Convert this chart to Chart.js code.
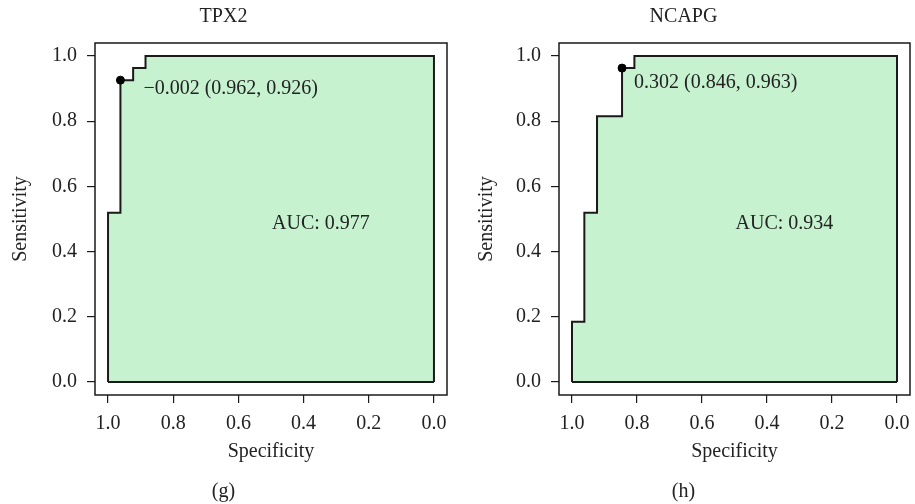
<!DOCTYPE html>
<html>
<head>
<meta charset="utf-8">
<script src="https://cdn.jsdelivr.net/npm/chart.js@4.4.1/dist/chart.umd.min.js"></script>
<style>
  body { margin: 0; background: #fff; }
  #wrap { position: relative; width: 915px; height: 504px; }
  .panel { position: absolute; top: 0; height: 504px; }
</style>
</head>
<body>
<div id="wrap">
  <div class="panel" style="left:0;width:457px"><canvas id="rocTPX2" width="457" height="504"></canvas></div>
  <div class="panel" style="left:457px;width:458px"><canvas id="rocNCAPG" width="458" height="504"></canvas></div>
</div>
<script>
// ROC steps (specificity, sensitivity)
const tpx2Spec = [1, 1, 0.962, 0.962, 0.923, 0.923, 0.885, 0.885, 0];
const tpx2Sens = [0, 0.519, 0.519, 0.926, 0.926, 0.963, 0.963, 1, 1];
const tpx2Best = [-0.002, 0.962, 0.926];   // threshold, spec, sens
const tpx2Auc = 0.977;

const ncapgSpec = [1, 1, 0.962, 0.962, 0.923, 0.923, 0.846, 0.846, 0.808, 0.808, 0];
const ncapgSens = [0, 0.185, 0.185, 0.519, 0.519, 0.815, 0.815, 0.963, 0.963, 1, 1];
const ncapgBest = [0.302, 0.846, 0.963];
const ncapgAuc = 0.934;

const axisTicks = [0, 0.2, 0.4, 0.6, 0.8, 1.0];

Chart.defaults.font.family = "'Liberation Serif', serif";
Chart.defaults.font.size = 20;
Chart.defaults.color = '#222';

const ink = '#1a1a1a';

function fmt(v) {
  return (v < 0 ? '\u2212' : '') + Math.abs(v).toFixed(3);
}

// frame + AUC + threshold text
const rocDecor = {
  id: 'rocDecor',
  afterDraw(chart, args, opts) {
    const { ctx, chartArea: a, scales: { x, y } } = chart;
    ctx.save();
    ctx.strokeStyle = ink;
    ctx.lineWidth = 1.5;
    ctx.strokeRect(a.left, a.top, a.right - a.left, a.bottom - a.top);

    ctx.fillStyle = '#222';
    ctx.font = "20px 'Liberation Serif', serif";
    ctx.textAlign = 'left';
    ctx.textBaseline = 'middle';
    ctx.fillText('AUC: ' + opts.auc.toFixed(3), x.getPixelForValue(0.5) + 1, y.getPixelForValue(0.5) + 5);

    const b = opts.best;
    const px = x.getPixelForValue(b[1]), py = y.getPixelForValue(b[2]);
    ctx.fillText(fmt(b[0]) + ' (' + b[1].toFixed(3) + ', ' + b[2].toFixed(3) + ')',
      px + opts.dx, py + opts.dy);
    ctx.restore();
  }
};

function rocChart(id, title, tag, spec, sens, best, auc, lay) {
  const pts = spec.map((s, i) => ({ x: s, y: sens[i] }));
  // drop down the right edge so the area closes on y = 0
  pts.push({ x: 0, y: 0 });
  const base = [{ x: 0, y: 0 }, { x: spec[0], y: 0 }];

  const axis = (label, titlePad) => ({
    type: 'linear',
    min: -0.04,
    max: 1.04,
    afterBuildTicks: s => { s.ticks = axisTicks.map(v => ({ value: v })); },
    ticks: { callback: v => v.toFixed(1), color: '#222', padding: 9, font: { size: 20 } },
    grid: { drawOnChartArea: false, drawTicks: true, tickLength: 8, color: ink, lineWidth: 1.2 },
    border: { display: false },
    title: { display: true, text: label, color: '#222', font: { size: 20 }, padding: titlePad }
  });

  const xAxis = axis('Specificity', { top: 0, bottom: 14 });
  xAxis.reverse = true;
  xAxis.afterFit = s => { s.height = lay.xh; };
  const yAxis = axis('Sensitivity', { top: lay.yt, bottom: 0 });
  yAxis.ticks.padding = 10;
  yAxis.afterFit = s => { s.width = lay.yw; };

  return new Chart(document.getElementById(id), {
    type: 'scatter',
    data: {
      datasets: [
        {
          data: [{ x: best[1], y: best[2] }],
          pointRadius: 4,
          pointBackgroundColor: '#000',
          pointBorderColor: '#000',
          showLine: false
        },
        {
          type: 'line',
          data: base,
          fill: false,
          borderColor: ink,
          borderWidth: 2,
          pointRadius: 0
        },
        {
          type: 'line',
          data: pts,
          fill: 'origin',
          backgroundColor: '#c6f2d0',
          borderColor: ink,
          borderWidth: 2,
          pointRadius: 0,
          tension: 0
        }
      ]
    },
    options: {
      responsive: false,
      animation: false,
      devicePixelRatio: 1,
      layout: { padding: { left: 0, right: lay.pr, top: 0, bottom: 0 } },
      scales: { x: xAxis, y: yAxis },
      plugins: {
        legend: { display: false },
        tooltip: { enabled: false },
        title: {
          display: true, text: title, color: '#222',
          font: { size: 20, weight: 'normal', lineHeight: 1.2 },
          padding: { top: 5, bottom: lay.tb }
        },
        subtitle: {
          display: true, text: tag, position: 'bottom', color: '#222',
          font: { size: 20, weight: 'normal', lineHeight: 1.2 },
          padding: { top: 2, bottom: 0 }
        },
        rocDecor: { auc: auc, best: best, dx: lay.dx, dy: lay.dy }
      }
    },
    plugins: [rocDecor]
  });
}

rocChart('rocTPX2', 'TPX2', '(g)', tpx2Spec, tpx2Sens, tpx2Best, tpx2Auc,
  { yw: 95, pr: 10, xh: 83, yt: 9, tb: 14, dx: 23, dy: 9 });
rocChart('rocNCAPG', 'NCAPG', '(h)', ncapgSpec, ncapgSens, ncapgBest, ncapgAuc,
  { yw: 102, pr: 5, xh: 83, yt: 18, tb: 14, dx: 12, dy: 15 });
</script>
</body>
</html>
